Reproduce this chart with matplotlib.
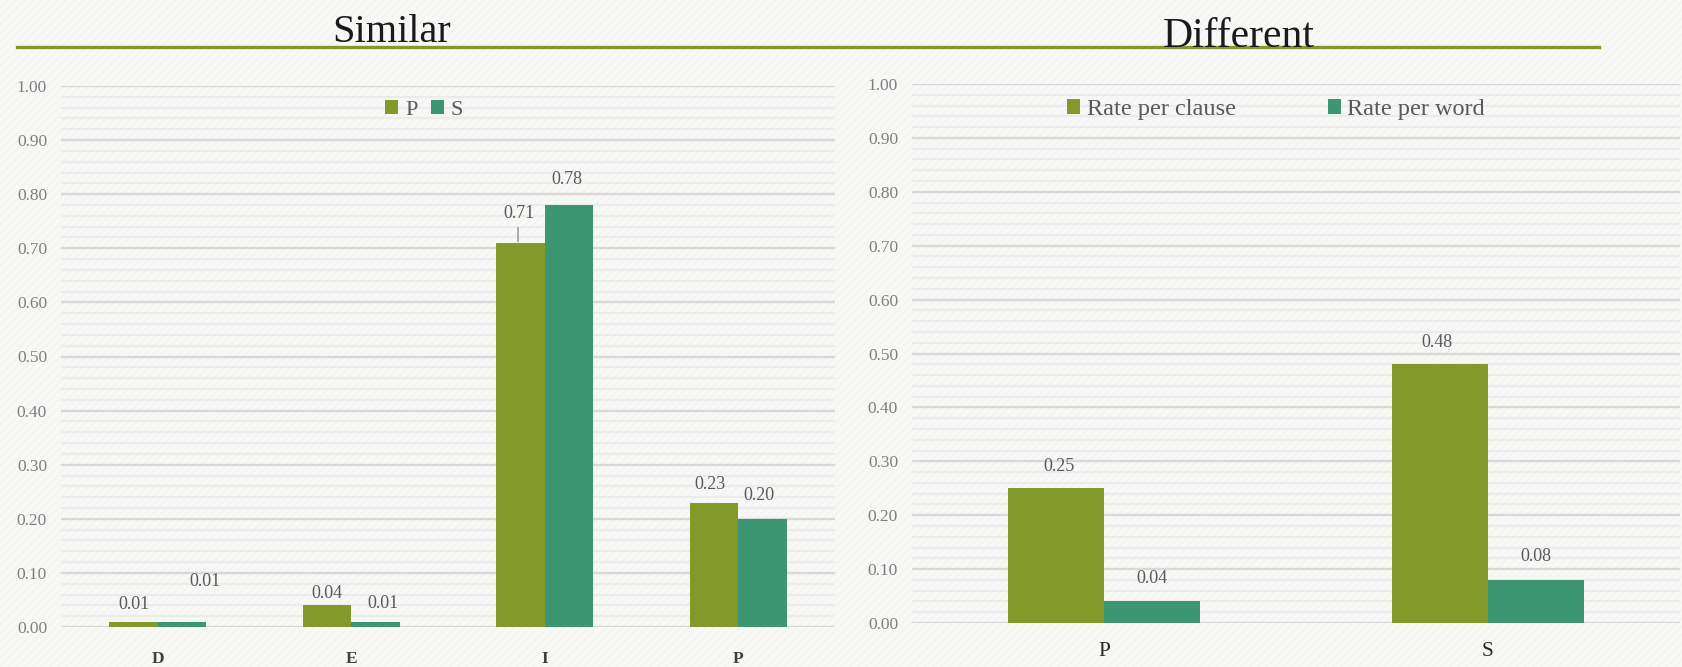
import numpy as np
import matplotlib
matplotlib.use("Agg")
import matplotlib.pyplot as plt
from matplotlib.patches import Rectangle

plt.rcParams['font.family'] = ['Liberation Serif', 'DejaVu Serif']
plt.rcParams['hatch.linewidth'] = 1.0

# data
sim_categories = ['D', 'E', 'I', 'P']
sim_p = [0.01, 0.04, 0.71, 0.23]
sim_s = [0.01, 0.01, 0.78, 0.20]

diff_categories = ['P', 'S']
rate_clause = [0.25, 0.48]
rate_word = [0.04, 0.08]

# label nudges (pixels) so the numbers sit where they were placed by hand
sim_p_off = [(0, 17), (0, 12), (-2, 29), (-4, 18)]
sim_s_off = [(23, 40), (8, 18), (-2, 26), (-4, 23)]
diff_c_off = [(3, 22), (-3, 22)]
diff_w_off = [(0, 23), (0, 23)]

GREEN = '#839a2b'
TEAL = '#3b9671'
W, H = 1682, 667

fig = plt.figure(figsize=(W / 100, H / 100), dpi=100)
fig.patch.set_facecolor('#f8f8f7')
fig.patches.append(Rectangle((0, 0), 1, 1, transform=fig.transFigure,
                             facecolor='none', edgecolor='#f3f3f2',
                             hatch='////', lw=0, zorder=-10))


def frac(x0, x1, ytop, ybot):
    return [x0 / W, 1 - ybot / H, (x1 - x0) / W, (ybot - ytop) / H]


def style_axes(ax, ncat):
    ax.set_facecolor('none')
    ax.set_xlim(-0.5, ncat - 0.5)
    ax.set_ylim(0, 1)
    for s in ax.spines.values():
        s.set_visible(False)
    ax.set_yticks(np.arange(0, 1.01, 0.1))
    ax.set_yticklabels([f'{v:.2f}' for v in np.arange(0, 1.01, 0.1)])
    ax.set_yticks(np.arange(0, 1.0, 0.02), minor=True)
    ax.grid(axis='y', which='major', color='#d9d9d9', lw=1.7, zorder=0)
    ax.grid(axis='y', which='minor', color='#ececec', lw=1.6, zorder=0)
    ax.set_axisbelow(True)
    ax.tick_params(axis='y', which='both', length=0, pad=10,
                   labelsize=12.5, labelcolor='#7f7f7f')
    ax.tick_params(axis='x', length=0)


def bars(ax, a, b, a_off, b_off, la, lb):
    x = np.arange(len(a))
    w = 0.25
    ra = ax.bar(x - w / 2, a, w, color=GREEN, label=la, zorder=3)
    rb = ax.bar(x + w / 2, b, w, color=TEAL, label=lb, zorder=3)
    for rects, vals, offs in ((ra, a, a_off), (rb, b, b_off)):
        for r, v, (dx, dy) in zip(rects, vals, offs):
            ax.annotate(f'{v:.2f}', (r.get_x() + r.get_width() / 2, v),
                        xytext=(dx, dy), textcoords='offset pixels',
                        ha='center', va='center', fontsize=13,
                        color='#595959', zorder=4)
    return ra, rb


# left panel
ax1 = fig.add_axes(frac(61, 835, 86, 627))
style_axes(ax1, len(sim_categories))
ra, rb = bars(ax1, sim_p, sim_s, sim_p_off, sim_s_off, 'P', 'S')
# leader line for the moved 0.71 label
r = ra[2]
xc = r.get_x() + r.get_width() / 2
ax1.plot([xc - 0.012, xc - 0.012], [sim_p[2] + 0.004, sim_p[2] + 0.027],
         color='#a6a6a6', lw=1.3, zorder=4)
ax1.set_xticks(range(len(sim_categories)))
ax1.set_xticklabels(sim_categories, fontsize=12.5, fontweight='bold',
                    color='#404040')
ax1.tick_params(axis='x', pad=17)
ax1.legend(loc='center', bbox_to_anchor=(0.469, 0.956), ncol=2,
           frameon=False, fontsize=16, handlelength=0.6, handleheight=0.6,
           handletextpad=0.3, columnspacing=0.6, labelcolor='#595959',
           borderaxespad=0, borderpad=0)

# right panel
ax2 = fig.add_axes(frac(912, 1680, 84, 623))
style_axes(ax2, len(diff_categories))
bars(ax2, rate_clause, rate_word, diff_c_off, diff_w_off,
     'Rate per clause', 'Rate per word')
ax2.set_xticks(range(len(diff_categories)))
ax2.set_xticklabels(diff_categories, fontsize=15.5, color='#262626')
ax2.tick_params(axis='x', pad=14)
ax2.legend(loc='center', bbox_to_anchor=(0.474, 0.953), ncol=2,
           frameon=False, fontsize=17.5, handlelength=0.55, handleheight=0.55,
           handletextpad=0.25, columnspacing=3.8, labelcolor='#595959',
           borderaxespad=0, borderpad=0)

# headings and rule
fig.text(392 / W, 1 - 42 / H, 'Similar', ha='center', va='baseline',
         fontsize=29, color='#1a1a1a')
fig.text(1239 / W, 1 - 47 / H, 'Different', ha='center', va='baseline',
         fontsize=30, color='#1a1a1a')
fig.add_artist(plt.Line2D([17 / W, 1599 / W], [1 - 47 / H, 1 - 47 / H],
                          transform=fig.transFigure, color='#7f9a2e', lw=2.4))

fig.savefig('out.png', dpi=100, facecolor=fig.get_facecolor())
